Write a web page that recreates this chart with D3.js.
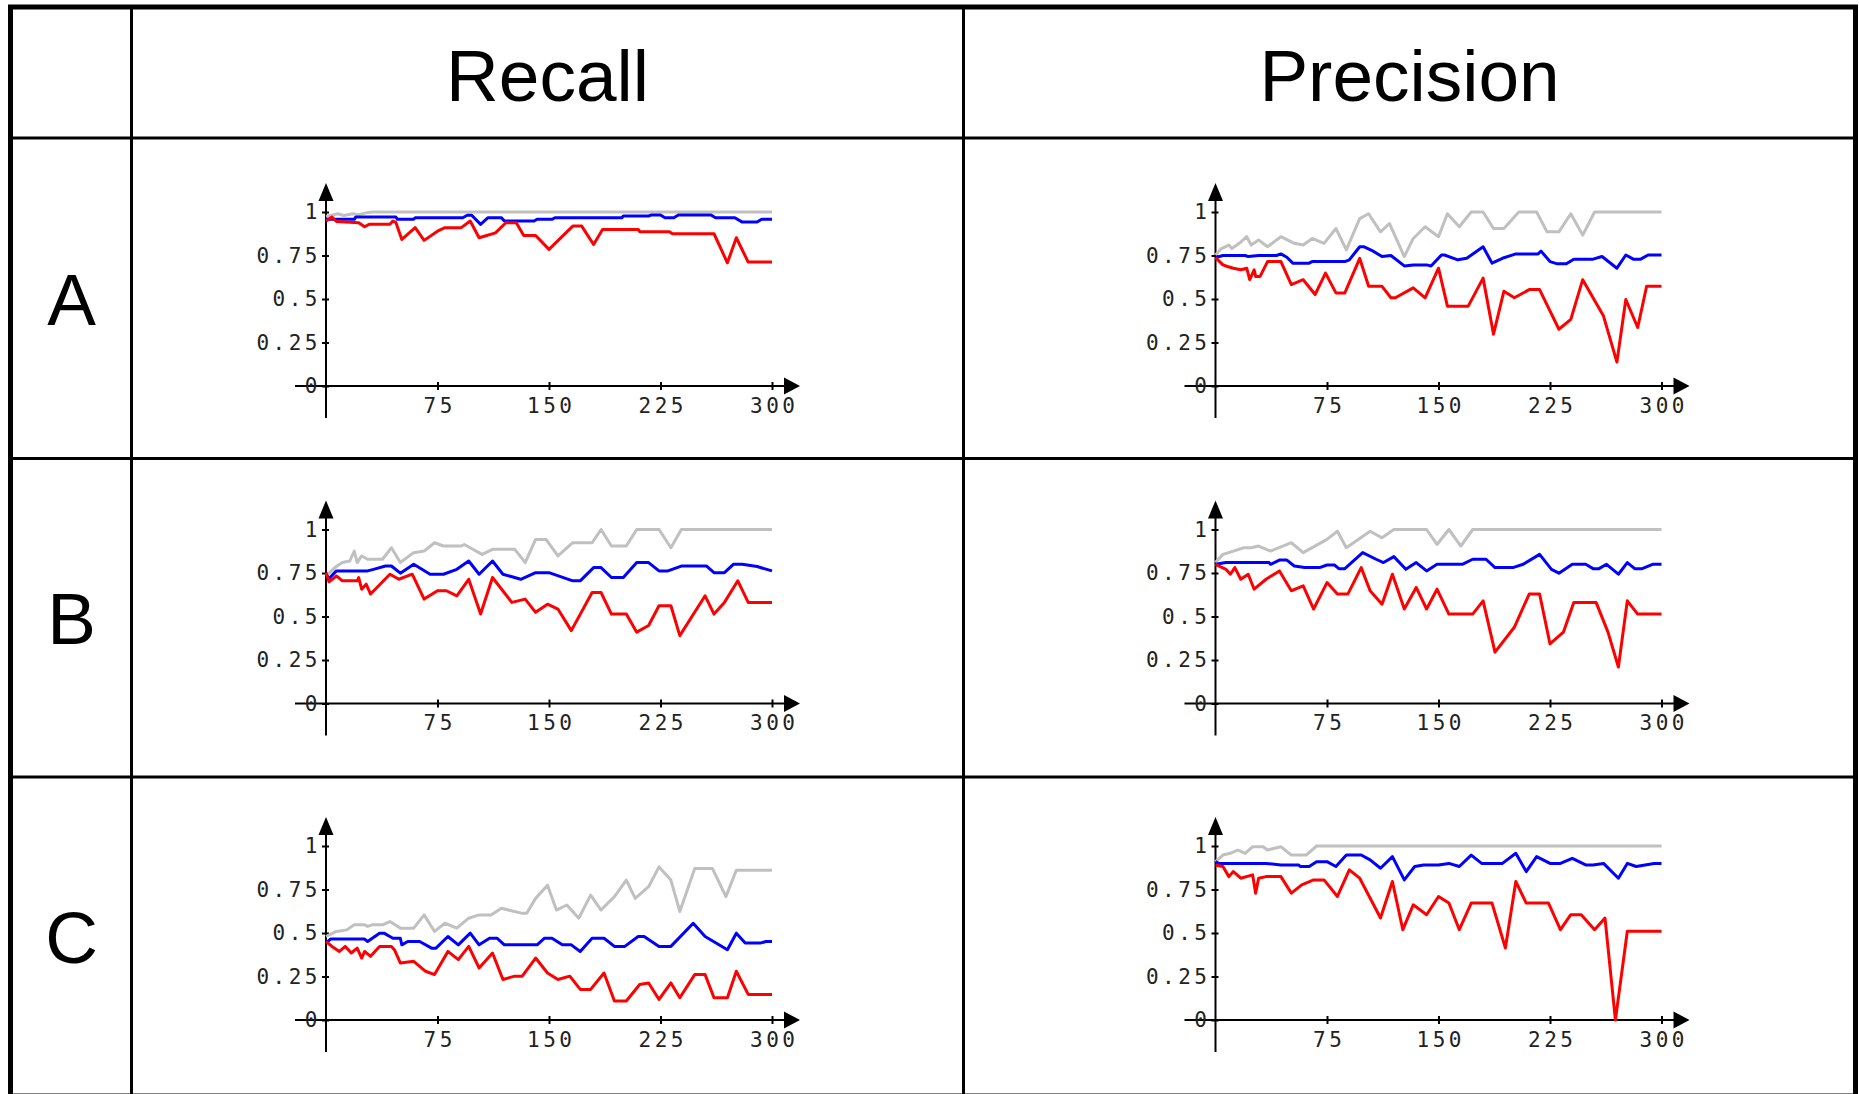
<!DOCTYPE html>
<html>
<head>
<meta charset="utf-8">
<script src="https://cdn.jsdelivr.net/npm/d3@7"></script>
<style>
html, body { margin: 0; padding: 0; background: #fff; }
svg { display: block; }
</style>
</head>
<body>
<svg id="chart" width="1859" height="1094"></svg>
<script>
// ---------- data ----------
const columns = ["Recall", "Precision"];
const rows = ["A", "B", "C"];
const seriesNames = ["gray", "blue", "red"];
const xTicks = [75, 150, 225, 300];
const yTicks = [0, 0.25, 0.5, 0.75, 1];
const yTickLabels = ["0", "0.25", "0.5", "0.75", "1"];
const xTickLabels = ["75", "150", "225", "300"];

// Row A – Recall
const recallA_gray = [[0,0.975],[3,0.98],[8,0.99],[12,0.98],[18,0.99],[22,0.985],[27,0.995],[31,1],[300,1]];
const recallA_blue = [[0,0.958],[19,0.958],[20,0.971],[47,0.971],[48,0.958],[59,0.958],[60,0.967],[92,0.967],[95,0.981],[98,0.981],[104,0.929],[109,0.967],[118,0.967],[120,0.948],[140,0.948],[142,0.958],[152,0.958],[154,0.967],[199,0.967],[200,0.977],[217,0.977],[219,0.983],[225,0.983],[228,0.967],[234,0.967],[237,0.983],[259,0.983],[262,0.967],[275,0.967],[280,0.942],[290,0.942],[293,0.958],[300,0.958]];
const recallA_red = [[0,0.948],[4,0.971],[7,0.945],[22,0.938],[26,0.915],[29,0.929],[43,0.929],[45,0.948],[47,0.94],[51,0.842],[60,0.91],[66,0.837],[75,0.89],[80,0.91],[91,0.91],[97,0.948],[103,0.852],[107,0.862],[114,0.88],[121,0.938],[128,0.938],[133,0.865],[141,0.865],[150,0.785],[166,0.919],[172,0.919],[180,0.813],[186,0.9],[210,0.9],[211,0.887],[231,0.887],[233,0.875],[261,0.875],[270,0.708],[276,0.852],[284,0.712],[300,0.712]];
// Row A – Precision
const precisionA_gray = [[0,0.753],[4,0.79],[9,0.81],[11,0.79],[16,0.82],[21,0.858],[24,0.81],[29,0.839],[35,0.8],[44,0.858],[53,0.82],[59,0.81],[65,0.848],[73,0.82],[81,0.905],[88,0.782],[97,0.962],[103,0.99],[111,0.886],[117,0.934],[127,0.744],[133,0.848],[141,0.915],[150,0.858],[156,0.99],[164,0.915],[172,1],[180,1],[187,0.905],[194,0.905],[204,1],[216,1],[223,0.886],[231,0.886],[239,0.99],[247,0.867],[255,1],[300,1]];
const precisionA_blue = [[0,0.738],[5,0.75],[20,0.75],[22,0.744],[29,0.75],[41,0.75],[44,0.759],[48,0.74],[52,0.706],[63,0.706],[65,0.715],[87,0.715],[90,0.725],[97,0.8],[100,0.8],[105,0.78],[112,0.744],[118,0.75],[127,0.69],[133,0.696],[142,0.696],[145,0.69],[152,0.753],[154,0.753],[163,0.725],[169,0.734],[180,0.8],[186,0.706],[193,0.734],[202,0.759],[217,0.759],[219,0.775],[225,0.715],[230,0.702],[236,0.702],[241,0.729],[254,0.729],[260,0.744],[270,0.677],[276,0.753],[281,0.729],[286,0.729],[291,0.753],[300,0.753]];
const precisionA_red = [[0,0.738],[5,0.696],[8,0.687],[12,0.677],[17,0.668],[21,0.677],[23,0.611],[26,0.668],[27,0.63],[30,0.63],[35,0.715],[44,0.715],[51,0.583],[59,0.611],[67,0.526],[74,0.649],[81,0.535],[87,0.535],[97,0.734],[103,0.573],[112,0.573],[118,0.507],[121,0.507],[133,0.564],[141,0.507],[150,0.677],[156,0.459],[170,0.459],[180,0.62],[187,0.298],[194,0.545],[201,0.507],[211,0.554],[218,0.554],[231,0.326],[239,0.383],[247,0.611],[261,0.402],[270,0.137],[276,0.497],[284,0.336],[290,0.573],[300,0.573]];
// Row B – Recall
const recallB_gray = [[0,0.733],[6,0.781],[11,0.81],[16,0.819],[19,0.876],[21,0.81],[24,0.848],[28,0.829],[38,0.829],[44,0.895],[50,0.81],[59,0.867],[66,0.876],[73,0.924],[79,0.905],[91,0.905],[93,0.914],[105,0.857],[112,0.886],[127,0.886],[134,0.81],[141,0.943],[148,0.943],[156,0.848],[166,0.924],[179,0.924],[185,1],[192,0.905],[202,0.905],[209,1],[224,1],[232,0.895],[239,1],[300,1]];
const recallB_blue = [[0,0.743],[2,0.718],[7,0.762],[28,0.762],[32,0.771],[40,0.79],[44,0.79],[50,0.749],[59,0.8],[70,0.743],[79,0.743],[88,0.771],[96,0.819],[103,0.743],[112,0.819],[119,0.743],[131,0.714],[141,0.752],[150,0.752],[166,0.705],[171,0.705],[180,0.781],[185,0.781],[192,0.724],[200,0.724],[209,0.81],[217,0.81],[224,0.762],[230,0.762],[239,0.79],[256,0.79],[261,0.752],[268,0.752],[274,0.8],[280,0.8],[290,0.787],[300,0.762]];
const recallB_red = [[0,0.752],[2,0.699],[7,0.733],[11,0.705],[21,0.705],[22,0.724],[24,0.657],[27,0.686],[30,0.629],[43,0.743],[49,0.714],[58,0.743],[66,0.6],[75,0.648],[81,0.648],[88,0.619],[96,0.714],[104,0.514],[112,0.724],[125,0.581],[134,0.6],[141,0.524],[149,0.571],[156,0.543],[165,0.419],[179,0.638],[185,0.638],[192,0.514],[202,0.514],[209,0.41],[217,0.448],[224,0.562],[232,0.562],[238,0.39],[255,0.619],[261,0.514],[268,0.581],[277,0.705],[284,0.581],[300,0.581]];
// Row B – Precision
const precisionB_gray = [[0,0.81],[5,0.857],[12,0.876],[19,0.895],[24,0.895],[29,0.905],[37,0.876],[51,0.924],[59,0.867],[75,0.943],[82,0.99],[88,0.895],[104,0.99],[112,0.952],[120,1],[142,1],[149,0.914],[157,1],[165,0.905],[173,1],[300,1]];
const precisionB_blue = [[0,0.8],[7,0.81],[36,0.81],[37,0.8],[43,0.824],[48,0.824],[53,0.79],[60,0.781],[70,0.781],[75,0.796],[80,0.796],[83,0.775],[87,0.775],[99,0.867],[108,0.829],[113,0.81],[120,0.844],[128,0.771],[135,0.81],[142,0.762],[149,0.8],[166,0.8],[173,0.829],[182,0.829],[188,0.781],[200,0.781],[207,0.8],[218,0.857],[226,0.771],[231,0.749],[240,0.8],[249,0.8],[254,0.775],[258,0.775],[263,0.8],[271,0.743],[277,0.81],[282,0.775],[287,0.775],[294,0.8],[300,0.8]];
const precisionB_red = [[0,0.8],[7,0.771],[10,0.743],[13,0.781],[17,0.714],[22,0.743],[26,0.657],[34,0.714],[43,0.762],[51,0.648],[59,0.676],[66,0.543],[75,0.695],[82,0.629],[89,0.629],[98,0.781],[104,0.648],[112,0.571],[119,0.743],[127,0.543],[135,0.667],[142,0.543],[149,0.657],[157,0.514],[173,0.514],[180,0.59],[188,0.295],[201,0.438],[211,0.629],[218,0.629],[225,0.343],[234,0.41],[241,0.581],[256,0.581],[264,0.41],[271,0.21],[277,0.59],[284,0.514],[300,0.514]];
// Row C – Recall
const recallC_gray = [[0,0.48],[7,0.509],[14,0.518],[19,0.547],[26,0.547],[28,0.538],[31,0.547],[38,0.547],[43,0.566],[50,0.528],[59,0.528],[66,0.604],[73,0.509],[80,0.556],[88,0.528],[96,0.585],[103,0.604],[111,0.604],[118,0.642],[132,0.613],[135,0.613],[141,0.699],[149,0.775],[155,0.632],[162,0.661],[170,0.585],[178,0.718],[185,0.632],[194,0.709],[202,0.804],[208,0.699],[217,0.766],[224,0.88],[232,0.804],[238,0.623],[248,0.87],[260,0.87],[269,0.709],[276,0.861],[300,0.861]];
const recallC_blue = [[0,0.442],[3,0.465],[26,0.465],[28,0.451],[36,0.499],[39,0.499],[45,0.47],[50,0.47],[51,0.432],[55,0.451],[63,0.451],[71,0.413],[74,0.413],[82,0.48],[89,0.432],[97,0.499],[103,0.432],[110,0.47],[115,0.47],[120,0.432],[142,0.432],[147,0.47],[152,0.47],[159,0.432],[165,0.432],[171,0.394],[179,0.47],[187,0.47],[194,0.423],[201,0.423],[210,0.48],[214,0.48],[224,0.423],[232,0.423],[247,0.556],[255,0.48],[270,0.404],[276,0.499],[282,0.442],[292,0.442],[296,0.451],[300,0.451]];
const recallC_red = [[0,0.451],[4,0.423],[9,0.394],[13,0.423],[17,0.385],[21,0.413],[24,0.356],[26,0.394],[30,0.366],[36,0.423],[44,0.423],[46,0.404],[50,0.328],[59,0.337],[67,0.28],[73,0.261],[82,0.394],[89,0.347],[96,0.423],[103,0.299],[112,0.385],[119,0.233],[127,0.252],[132,0.252],[141,0.356],[149,0.27],[156,0.233],[164,0.252],[171,0.176],[178,0.176],[187,0.27],[194,0.109],[202,0.109],[211,0.204],[217,0.213],[224,0.118],[232,0.213],[238,0.128],[248,0.261],[255,0.261],[261,0.128],[270,0.128],[276,0.28],[284,0.147],[300,0.147]];
// Row C – Precision
const precisionC_gray = [[0,0.91],[5,0.948],[10,0.958],[15,0.977],[20,0.958],[25,0.996],[32,0.996],[35,0.977],[44,0.996],[51,0.948],[61,0.948],[68,1],[300,1]];
const precisionC_blue = [[0,0.91],[2,0.9],[34,0.9],[44,0.891],[56,0.891],[57,0.882],[63,0.882],[68,0.91],[75,0.91],[81,0.882],[88,0.948],[98,0.948],[104,0.92],[111,0.872],[119,0.939],[127,0.805],[134,0.882],[140,0.891],[150,0.891],[157,0.9],[164,0.882],[172,0.948],[179,0.9],[193,0.9],[202,0.958],[209,0.853],[216,0.939],[225,0.9],[232,0.9],[240,0.929],[249,0.891],[254,0.891],[261,0.9],[271,0.815],[277,0.9],[283,0.882],[295,0.9],[300,0.9]];
const precisionC_red = [[0,0.891],[5,0.882],[9,0.824],[12,0.853],[17,0.815],[25,0.834],[27,0.729],[29,0.815],[34,0.824],[44,0.824],[51,0.729],[58,0.777],[66,0.805],[73,0.805],[82,0.71],[90,0.863],[97,0.815],[111,0.586],[119,0.796],[126,0.519],[133,0.662],[142,0.605],[150,0.71],[157,0.672],[164,0.519],[172,0.672],[186,0.672],[195,0.414],[202,0.796],[209,0.672],[224,0.672],[232,0.519],[239,0.605],[246,0.605],[255,0.519],[262,0.586],[269,0],[277,0.51],[300,0.51]];

const panelData = {
  Recall: {
    A: [recallA_gray, recallA_blue, recallA_red],
    B: [recallB_gray, recallB_blue, recallB_red],
    C: [recallC_gray, recallC_blue, recallC_red]
  },
  Precision: {
    A: [precisionA_gray, precisionA_blue, precisionA_red],
    B: [precisionB_gray, precisionB_blue, precisionB_red],
    C: [precisionC_gray, precisionC_blue, precisionC_red]
  }
};

// ---------- layout ----------
const W = 1859, H = 1094;
const colEdges = [10.5, 131.5, 963.5, 1855.5];
const rowEdges = [7, 138, 458.5, 777, 1096];
const originX = { Recall: 326, Precision: 1215.5 };
const originY = { A: 386, B: 703.5, C: 1020 };
const plotW = 446, plotH = 174;
const colors = { gray: "#c0c0c0", blue: "#0000ff", red: "#ff0000" };

const svg = d3.select("#chart");
svg.append("rect").attr("width", W).attr("height", H).attr("fill", "#fff");

// ---------- table ----------
const grid = svg.append("g").attr("stroke", "#000").attr("fill", "none");
[colEdges[1], colEdges[2]].forEach(x => {
  grid.append("line").attr("x1", x).attr("x2", x).attr("y1", rowEdges[0]).attr("y2", rowEdges[4]).attr("stroke-width", 3);
});
[rowEdges[1], rowEdges[2], rowEdges[3]].forEach(y => {
  grid.append("line").attr("x1", colEdges[0]).attr("x2", colEdges[3]).attr("y1", y).attr("y2", y).attr("stroke-width", 3);
});
grid.append("rect")
  .attr("x", colEdges[0]).attr("y", rowEdges[0])
  .attr("width", colEdges[3] - colEdges[0]).attr("height", rowEdges[4] - rowEdges[0])
  .attr("stroke-width", 5);

const bigFont = "'Liberation Sans', Arial, Helvetica, sans-serif";
columns.forEach((c, i) => {
  svg.append("text")
    .attr("x", (colEdges[i + 1] + colEdges[i + 2]) / 2)
    .attr("y", 100.7)
    .attr("text-anchor", "middle")
    .attr("font-family", bigFont)
    .attr("font-size", 73)
    .attr("fill", "#000")
    .text(c);
});
rows.forEach((r, i) => {
  svg.append("text")
    .attr("x", (colEdges[0] + colEdges[1]) / 2 + 0.5)
    .attr("y", (rowEdges[i + 1] + rowEdges[i + 2]) / 2 + 26.5)
    .attr("text-anchor", "middle")
    .attr("font-family", bigFont)
    .attr("font-size", 73)
    .attr("fill", "#000")
    .text(r);
});

// ---------- small charts ----------
const tickFont = "'DejaVu Sans Mono', monospace";
const line = d3.line();
const ls = 3.5; // letter spacing of tick labels

columns.forEach(col => {
  rows.forEach(row => {
    const ox = originX[col], oy = originY[row];
    const x = d3.scaleLinear().domain([0, 300]).range([ox, ox + plotW]);
    const y = d3.scaleLinear().domain([0, 1]).range([oy, oy - plotH]);
    const g = svg.append("g");

    // axes lines with arrows
    g.append("line").attr("x1", ox - 31).attr("x2", ox + 462).attr("y1", oy).attr("y2", oy)
      .attr("stroke", "#000").attr("stroke-width", 2);
    g.append("line").attr("x1", ox).attr("x2", ox).attr("y1", oy + 32).attr("y2", oy - 190)
      .attr("stroke", "#000").attr("stroke-width", 2);
    // x arrow
    const xe = ox + 474;
    g.append("path").attr("d", `M${xe},${oy} L${xe - 16},${oy - 8.5} L${xe - 16},${oy + 8.5} Z`).attr("fill", "#000");
    // y arrow
    const ye = oy - 203;
    g.append("path").attr("d", `M${ox},${ye} L${ox - 7.5},${ye + 18} L${ox + 7.5},${ye + 18} Z`).attr("fill", "#000");

    // y axis ticks + labels
    const yAxis = d3.axisLeft(y).tickValues(yTicks).tickSize(4).tickPadding(7)
      .tickFormat((d, i) => yTickLabels[i]);
    const ya = g.append("g").attr("transform", `translate(${ox},0)`).call(yAxis);
    ya.select(".domain").remove();
    ya.selectAll(".tick line").attr("x1", 3).attr("x2", -4).attr("stroke", "#000").attr("stroke-width", 2);
    ya.selectAll(".tick text")
      .attr("font-family", tickFont).attr("font-size", 21).attr("fill", "#222")
      .attr("letter-spacing", ls + "px").attr("x", -5);

    // x axis ticks + labels
    const xAxis = d3.axisBottom(x).tickValues(xTicks).tickSize(4).tickPadding(8)
      .tickFormat((d, i) => xTickLabels[i]);
    const xa = g.append("g").attr("transform", `translate(0,${oy})`).call(xAxis);
    xa.select(".domain").remove();
    xa.selectAll(".tick line").attr("y1", -4).attr("y2", 4).attr("stroke", "#000").attr("stroke-width", 2);
    xa.selectAll(".tick text")
      .attr("font-family", tickFont).attr("font-size", 21).attr("fill", "#222")
      .attr("letter-spacing", ls + "px").attr("dx", (ls / 2) + "px");

    // series
    panelData[col][row].forEach((pts, si) => {
      g.append("path")
        .attr("d", line(pts.map(p => [x(p[0]), y(p[1])])))
        .attr("fill", "none")
        .attr("stroke", colors[seriesNames[si]])
        .attr("stroke-width", 3)
        .attr("stroke-linejoin", "round");
    });
  });
});
</script>
</body>
</html>
